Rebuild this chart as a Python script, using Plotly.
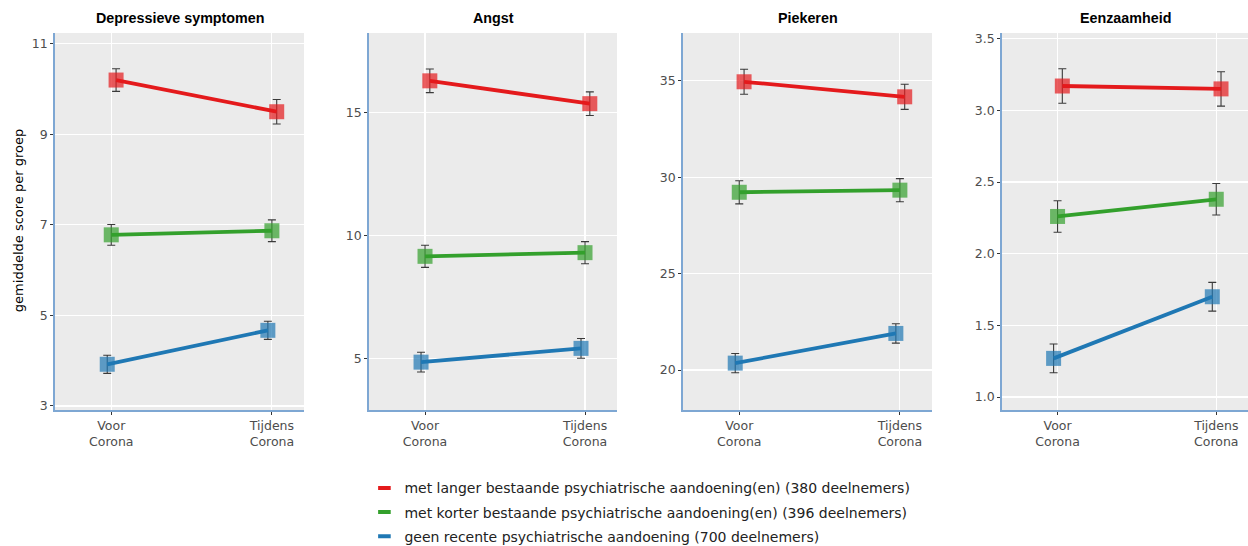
import plotly.graph_objects as go

# ---------------- data ----------------
panels = ["Depressieve symptomen", "Angst", "Piekeren", "Eenzaamheid"]
periods = ["Voor<br>Corona", "Tijdens<br>Corona"]
groups = [
    "met langer bestaande psychiatrische aandoening(en) (380 deelnemers)",
    "met korter bestaande psychiatrische aandoening(en) (396 deelnemers)",
    "geen recente psychiatrische aandoening (700 deelnemers)",
]

# means per panel: [langer, korter, geen] x [voor, tijdens]
dep_means = [[10.20, 9.50], [6.78, 6.87], [3.92, 4.67]]
dep_err = [[0.25, 0.27], [0.23, 0.24], [0.20, 0.20]]
angst_means = [[16.30, 15.37], [9.15, 9.30], [4.84, 5.40]]
angst_err = [[0.48, 0.48], [0.45, 0.45], [0.40, 0.40]]
piek_means = [[34.95, 34.17], [29.22, 29.33], [20.36, 21.90]]
piek_err = [[0.65, 0.65], [0.60, 0.60], [0.50, 0.50]]
eenz_means = [[3.17, 3.15], [2.26, 2.38], [1.27, 1.70]]
eenz_err = [[0.12, 0.12], [0.11, 0.11], [0.10, 0.10]]

y_ticks = [[3, 5, 7, 9, 11], [5, 10, 15], [20, 25, 30, 35], [1.0, 1.5, 2.0, 2.5, 3.0, 3.5]]
y_ticktext = [["3", "5", "7", "9", "11"], ["5", "10", "15"], ["20", "25", "30", "35"],
              ["1.0", "1.5", "2.0", "2.5", "3.0", "3.5"]]

# ---------------- style ----------------
colors = ["#e41a1c", "#33a02c", "#1f78b4"]
y_ranges = [[2.91, 11.24], [2.89, 18.25], [17.93, 37.48], [0.91, 3.54]]
x_domains = [[0.0441, 0.2436], [0.2957, 0.4944], [0.5473, 0.7468], [0.8029, 1.0]]
y_domain = [0.2491, 0.9396]
dodge = [0.03, 0.0, -0.025]

all_means = [dep_means, angst_means, piek_means, eenz_means]
all_err = [dep_err, angst_err, piek_err, eenz_err]

fig = go.Figure()
tick_font = dict(family="DejaVu Sans, sans-serif", size=12.5, color="#4d4d4d")
axis_line_color = "#7ea7d3"

for p in range(4):
    xa = "x" if p == 0 else f"x{p+1}"
    ya = "y" if p == 0 else f"y{p+1}"
    for g in range(3):
        xs = [i + dodge[g] for i in range(len(periods))]
        fig.add_trace(go.Scatter(
            x=xs, y=all_means[p][g], xaxis=xa, yaxis=ya,
            mode="lines+markers",
            line=dict(color=colors[g], width=3.8),
            marker=dict(symbol="square", size=15, color=colors[g], opacity=0.7),
            error_y=dict(type="data", array=all_err[p][g], color="#3a3a3a",
                         thickness=1.1, width=4),
            showlegend=False, hoverinfo="skip",
        ))
    axkey = "xaxis" if p == 0 else f"xaxis{p+1}"
    aykey = "yaxis" if p == 0 else f"yaxis{p+1}"
    fig.layout[axkey] = dict(
        domain=x_domains[p], range=[-0.35, 1.2], anchor=ya,
        tickvals=[0, 1], ticktext=periods, tickfont=tick_font,
        showgrid=True, gridcolor="white", gridwidth=1.2,
        zeroline=False, showline=True, linecolor=axis_line_color, linewidth=1.8,
        ticks="outside", ticklen=3, tickcolor="#333333", tickwidth=1,
        fixedrange=True,
    )
    fig.layout[aykey] = dict(
        domain=y_domain, range=y_ranges[p], anchor=xa,
        tickvals=y_ticks[p], ticktext=y_ticktext[p], tickfont=tick_font,
        showgrid=True, gridcolor="white", gridwidth=1.2,
        zeroline=False, showline=True, linecolor=axis_line_color, linewidth=1.8,
        ticks="outside", ticklen=3, tickcolor="#333333", tickwidth=1,
        fixedrange=True,
    )
    fig.add_annotation(
        text=f"<b>{panels[p]}</b>", xref="paper", yref="paper",
        x=(x_domains[p][0] + x_domains[p][1]) / 2, y=0.967,
        showarrow=False, xanchor="center", yanchor="middle",
        font=dict(family="Liberation Sans, Arial, sans-serif", size=14.3, color="black"),
    )

# legend entries (short line segments)
for g in range(3):
    fig.add_trace(go.Scatter(
        x=[None], y=[None], mode="markers", name=groups[g], legendgroup=f"g{g}",
        marker=dict(symbol="line-ew-open", size=9, color=colors[g],
                    line=dict(color=colors[g], width=4)),
        showlegend=True,
    ))

fig.add_annotation(
    text="gemiddelde score per groep", xref="paper", yref="paper",
    x=18 / 1248, y=0.595, textangle=-90, showarrow=False,
    xanchor="center", yanchor="middle",
    font=dict(family="DejaVu Sans, sans-serif", size=13, color="black"),
)

fig.update_layout(
    width=1248, height=546,
    margin=dict(l=0, r=0, t=0, b=0, autoexpand=False),
    paper_bgcolor="white", plot_bgcolor="#ebebeb",
    legend=dict(
        x=0.292, y=0.135, xanchor="left", yanchor="top",
        font=dict(family="DejaVu Sans, sans-serif", size=14, color="#222222"),
        itemwidth=30, tracegroupgap=3, traceorder="grouped",
        bgcolor="rgba(0,0,0,0)",
    ),
)

fig.write_html("out.html", post_script="document.body.style.margin='0';",
               config={"displayModeBar": False, "staticPlot": True})
